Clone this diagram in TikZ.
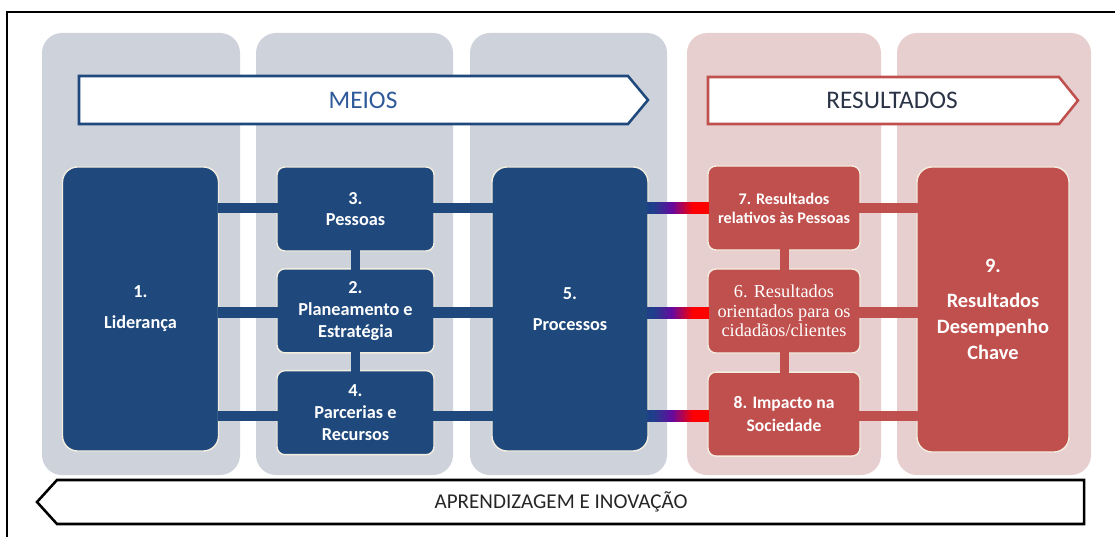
\documentclass[tikz,border=0pt]{standalone}
\usepackage{fontspec}
\setmainfont{Carlito}
\newfontfamily\serifsix{Liberation Serif}
\usepackage{xcolor}
\usepackage{tikz}
\usetikzlibrary{calc,positioning}
\definecolor{navy}{HTML}{1F497D}
\definecolor{brick}{HTML}{C0504D}
\definecolor{colgray}{HTML}{CED2DB}
\definecolor{colpink}{HTML}{E7CFD0}
\definecolor{rim}{HTML}{F3EEDF}
\definecolor{meiostext}{HTML}{2E5A9A}
\definecolor{restext}{HTML}{2B3446}
\definecolor{linkblue}{HTML}{1F3F8A}
\definecolor{linkpurple}{HTML}{650AA0}
\definecolor{linkred}{HTML}{FF0000}
\pgfdeclarehorizontalshading{linkshade}{100bp}{color(0bp)=(linkblue); color(30bp)=(linkblue); color(45bp)=(linkpurple); color(62bp)=(linkred); color(100bp)=(linkred)}
\tikzset{
  colbg/.style={rounded corners=0.5cm},
  banner/.style={fill=white, line width=1.8pt, line join=miter},
  bigbox/.style={draw=rim, line width=1pt, rounded corners=0.38cm, minimum width=3.9cm, minimum height=7.1cm, text=white, align=center, font=\bfseries\fontsize{13}{15.5}\selectfont},
  smallbox/.style={draw=rim, line width=1pt, rounded corners=0.2cm, minimum width=3.925cm, minimum height=2.1cm, text=white, align=center, font=\bfseries\fontsize{13}{15.5}\selectfont},
  bluebar/.style={draw=navy, line width=7.8pt, shorten <=-1.2pt, shorten >=-1.2pt},
  redbar/.style={draw=brick, line width=7.8pt, shorten <=-1.2pt, shorten >=-1.2pt},
  vbar/.style={line width=6.4pt, shorten <=-1.2pt, shorten >=-1.2pt},
  linkbar/.style={shading=linkshade},
  headlab/.style={font=\fontsize{18}{20}\selectfont},
}

\begin{document}
\begin{tikzpicture}[x=0.025cm, y=-0.025cm]
  \useasboundingbox (0,0) rectangle (1115,537);
  \draw[line width=1.5pt] (7,537) -- (7,12) -- (1115,12);
  % columns
  \fill[colbg, colgray] (42,33) rectangle (240,475);
  \fill[colbg, colgray] (256,33) rectangle (453,475);
  \fill[colbg, colgray] (470,33) rectangle (667,475);
  \fill[colbg, colpink] (687,33) rectangle (881,475);
  \fill[colbg, colpink] (897,33) rectangle (1091,475);
  % banners
  \draw[banner, draw=navy] (79,76) -- (628,76) -- (648,100) -- (628,124) -- (79,124) -- cycle;
  \draw[banner, draw=brick] (708,77) -- (1059,77) -- (1078,100.5) -- (1059,124) -- (708,124) -- cycle;
  \draw[banner, draw=black] (57,480) -- (1084,480) -- (1084,524) -- (57,524) -- (37,502) -- cycle;
  \node[headlab, text=meiostext] (meios) at (363,100) {MEIOS};
  \node[headlab, text=restext] (resultados) at (892,100) {RESULTADOS};
  \node[font=\fontsize{15}{17}\selectfont, text=black!85] (aprendizagem) at (561,502) {APRENDIZAGEM E INOVAÇÃO};
  % meios
  \node[bigbox, fill=navy] (b1) at (140.5,309) {1.\\[6.5pt]Liderança};
  \node[smallbox, fill=navy] (b3) at (355.5,209) {3.\\Pessoas};
  \node[smallbox, fill=navy, below=0.41cm of b3] (b2) {2.\\Planeamento e\\Estratégia};
  \node[smallbox, fill=navy, below=0.41cm of b2] (b4) {4.\\Parcerias e\\Recursos};
  \node[bigbox, fill=navy] (b5) at (570,309) {5.\\[6.5pt]Processos};
  % resultados
  \node[smallbox, fill=brick, minimum width=3.8cm, font=\bfseries\fontsize{11.5}{13.5}\selectfont] (b7) at (784,208) {7. Resultados\\relativos às Pessoas};
  \node[smallbox, fill=brick, minimum width=3.8cm, below=0.44cm of b7, font=\serifsix\fontsize{13}{14}\selectfont] (b6) {6. Resultados\\orientados para os\\cidadãos/clientes};
  \node[smallbox, fill=brick, minimum width=3.8cm, below=0.44cm of b6, font=\bfseries\fontsize{12.5}{16}\selectfont] (b8) {8. Impacto na\\Sociedade};
  \node[bigbox, fill=brick, minimum width=3.8cm, minimum height=7.125cm, font=\bfseries\fontsize{14.5}{18.5}\selectfont] (b9) at (993,309.5) {9.\\[6.5pt]Resultados\\Desempenho\\Chave};
  % connectors
  \coordinate (r1) at (0,208);
  \coordinate (r2) at (0,312.5);
  \coordinate (r3) at (0,416);
  \draw[bluebar] (b1.east |- r1) -- (b3.west |- r1);
  \draw[bluebar] (b1.east |- r2) -- (b2.west |- r2);
  \draw[bluebar] (b1.east |- r3) -- (b4.west |- r3);
  \draw[bluebar] (b3.east |- r1) -- (b5.west |- r1);
  \draw[bluebar] (b2.east |- r2) -- (b5.west |- r2);
  \draw[bluebar] (b4.east |- r3) -- (b5.west |- r3);
  \draw[vbar, navy] (b3.south) -- (b2.north);
  \draw[vbar, navy] (b2.south) -- (b4.north);
  \shade[linkbar] ($(b5.east |- r1)+(-1.5,-5.5)$) rectangle ($(b7.west |- r1)+(1.5,5.5)$);
  \shade[linkbar] ($(b5.east |- r2)+(-1.5,-5.5)$) rectangle ($(b6.west |- r2)+(1.5,5.5)$);
  \shade[linkbar] ($(b5.east |- r3)+(-1.5,-5.5)$) rectangle ($(b8.west |- r3)+(1.5,5.5)$);
  \draw[redbar] (b7.east |- r1) -- (b9.west |- r1);
  \draw[redbar] (b6.east |- r2) -- (b9.west |- r2);
  \draw[redbar] (b8.east |- r3) -- (b9.west |- r3);
  \draw[vbar, brick] (b7.south) -- (b6.north);
  \draw[vbar, brick] (b6.south) -- (b8.north);
\end{tikzpicture}
\end{document}
